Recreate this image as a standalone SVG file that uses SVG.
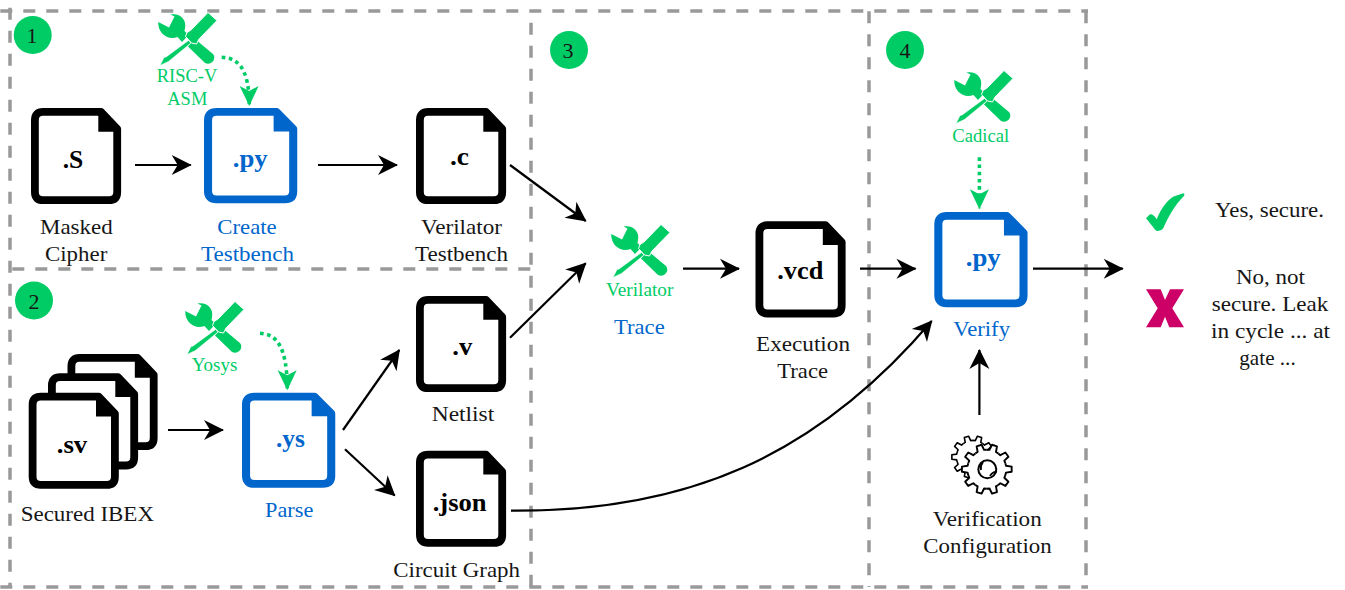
<svg xmlns="http://www.w3.org/2000/svg" width="1345" height="590" viewBox="0 0 1345 590">
<style>
text{font-family:"Liberation Serif","Times New Roman",serif;font-size:22px;fill:#161616}
.g{fill:#00CC66;font-size:18.5px}
.b{fill:#0066CC}
.f{font-weight:bold;font-size:26px;fill:#000}
.fb{font-weight:bold;font-size:26px;fill:#0066CC}
.k{color:#000}
.bl{color:#0066CC}
.frame{stroke:#999;stroke-width:3.5;stroke-dasharray:12 11;fill:none}
.c{fill:none;stroke:#000;stroke-width:2.2}
.d{fill:none;stroke:#00CC66;stroke-width:3.6;stroke-dasharray:3.6 3.6}
.badge{fill:#00CC66}
.seg{fill:#fff;stroke:#000;stroke-width:1.9;stroke-linejoin:round}
</style>
<defs>
<marker id="ah" markerUnits="userSpaceOnUse" markerWidth="24" markerHeight="24" viewBox="0 -12 22 24" refX="19" refY="0" orient="auto"><path d="M0,-10 L20,0 L0,10 L6,0Z" fill="#000"/></marker>
<marker id="ag" markerUnits="userSpaceOnUse" markerWidth="24" markerHeight="24" viewBox="0 -12 22 24" refX="19" refY="0" orient="auto"><path d="M0,-9.5 L20,0 L0,9.5 L5,0Z" fill="#00CC66"/></marker>
<g id="doc">
<path d="M12,3.9 H70 L86.2,21 V84 Q86.2,92.2 78,92.2 H12 Q3.9,92.2 3.9,84 V12 Q3.9,3.9 12,3.9Z" fill="#fff" stroke="currentColor" stroke-width="7.8" stroke-linejoin="round"/>
<path d="M67.3,3.9 H71 L86.2,21 V23.8 H67.3Z" fill="currentColor"/>
</g>
<g id="tool" fill="#00CC66">
<path d="M0.3,10 L11,15.5 L16.5,4.5 L12.5,2.6 C21,0.5 29,7 27,16 L26.5,19 L30.5,23 L24,30 L19.5,25 C10,29 -0.5,21 0.3,10Z"/>
<path d="M30,34.5 L37,27 L55,42 C59,47 53,54 47,51 Z"/>
<path d="M50,0.5 L59,8.5 L41,27 L38.5,32 L33.5,31 L27.5,24.5 L29,20.5 L33,18Z" stroke="#fff" stroke-width="1"/>
<path d="M30.5,28.5 L33,31 L10.5,49.5 L2,53.5 L6,45.5 L8,45Z" stroke="#fff" stroke-width="0.6"/>
</g>
<path id="tooth" class="seg" d="M18.55,-6.03 L19.2,-3.39 L24.86,-2.61 L24.86,2.61 L19.2,3.39 L18.55,6.03"/>
<g id="cog">
<circle r="19" fill="#fff"/>
<use href="#tooth"/><use href="#tooth" transform="rotate(36)"/><use href="#tooth" transform="rotate(72)"/><use href="#tooth" transform="rotate(108)"/><use href="#tooth" transform="rotate(144)"/><use href="#tooth" transform="rotate(180)"/><use href="#tooth" transform="rotate(216)"/><use href="#tooth" transform="rotate(252)"/><use href="#tooth" transform="rotate(288)"/><use href="#tooth" transform="rotate(324)"/>
</g>
</defs>

<g id="frames">
<line class="frame" x1="0.3" y1="11" x2="1088" y2="11" stroke-dashoffset="-23"/>
<line class="frame" x1="0.3" y1="587" x2="1088" y2="587" stroke-dashoffset="-23"/>
<line class="frame" x1="12.3" y1="269" x2="531" y2="269"/>
<line class="frame" x1="10" y1="7.7" x2="10" y2="587"/>
<line class="frame" x1="531" y1="22.7" x2="531" y2="587"/>
<line class="frame" x1="869" y1="11.3" x2="869" y2="587"/>
<line class="frame" x1="1086" y1="11.3" x2="1086" y2="587"/>
</g>

<g id="connectors">
<path class="c" marker-end="url(#ah)" d="M135,165 H190.7"/>
<path class="c" marker-end="url(#ah)" d="M318,165 H397"/>
<path class="c" marker-end="url(#ah)" d="M510,165 L585.7,221"/>
<path class="c" marker-end="url(#ah)" d="M510,337.7 L585.7,263.3"/>
<path class="c" marker-end="url(#ah)" d="M683,268.7 H739"/>
<path class="c" marker-end="url(#ah)" d="M860,268.7 H915.5"/>
<path class="c" marker-end="url(#ah)" d="M1033,268.7 H1122.7"/>
<path class="c" marker-end="url(#ah)" d="M168,430 H223"/>
<path class="c" marker-end="url(#ah)" d="M343,430 L399.3,350"/>
<path class="c" marker-end="url(#ah)" d="M345,449.3 L394.7,495.5"/>
<path class="c" marker-end="url(#ah)" d="M511,510.7 C685,512 815,458 931.7,321"/>
<path class="c" marker-end="url(#ah)" d="M979.4,415 V350"/>
<path class="d" marker-end="url(#ag)" d="M221.7,57.3 C238,58 249,68 249.3,105"/>
<path class="d" marker-end="url(#ag)" d="M260,333.3 C276,334 287,345 287.3,389.3"/>
<path class="d" marker-end="url(#ag)" d="M979.4,157.3 V208.3"/>
</g>

<g id="step-1"><circle class="badge" cx="32.7" cy="35" r="19"/><text x="32" y="43" text-anchor="middle">1</text></g>
<g id="step-2"><circle class="badge" cx="34" cy="300.5" r="19"/><text x="34" y="308.5" text-anchor="middle">2</text></g>
<g id="step-3"><circle class="badge" cx="569" cy="50" r="19"/><text x="568" y="58" text-anchor="middle">3</text></g>
<g id="step-4"><circle class="badge" cx="905" cy="50" r="19"/><text x="905" y="58" text-anchor="middle">4</text></g>

<g id="masked-cipher">
<use href="#doc" class="k" x="31" y="108"/>
<text class="f" x="62.7" y="168" textLength="20.6" lengthAdjust="spacingAndGlyphs">.S</text>
<text x="40" y="233.5" textLength="72.7" lengthAdjust="spacingAndGlyphs">Masked</text>
<text x="45" y="260.5" textLength="62.3" lengthAdjust="spacingAndGlyphs">Cipher</text>
</g>
<g id="risc-v-asm">
<use href="#tool" x="158" y="12"/>
<text class="g" x="156.7" y="81.7" textLength="60.6" lengthAdjust="spacingAndGlyphs">RISC-V</text>
<text class="g" x="167.3" y="105" textLength="40" lengthAdjust="spacingAndGlyphs">ASM</text>
</g>
<g id="create-testbench">
<use href="#doc" class="bl" transform="translate(204,108) scale(1.035,0.99)"/>
<text class="fb" x="232.7" y="166.7" textLength="35" lengthAdjust="spacingAndGlyphs">.py</text>
<text class="b" x="217.3" y="233.5" textLength="59.4" lengthAdjust="spacingAndGlyphs">Create</text>
<text class="b" x="201" y="260.5" textLength="93" lengthAdjust="spacingAndGlyphs">Testbench</text>
</g>
<g id="verilator-testbench">
<use href="#doc" class="k" x="416" y="108"/>
<text class="f" x="450" y="165" textLength="19" lengthAdjust="spacingAndGlyphs">.c</text>
<text x="421" y="234" textLength="81" lengthAdjust="spacingAndGlyphs">Verilator</text>
<text x="415" y="261" textLength="93" lengthAdjust="spacingAndGlyphs">Testbench</text>
</g>
<g id="secured-ibex">
<use href="#doc" class="k" x="67.5" y="354"/>
<use href="#doc" class="k" x="48" y="373.3"/>
<use href="#doc" class="k" x="28.7" y="392.7"/>
<text class="f" x="56.7" y="452.7" textLength="30.6" lengthAdjust="spacingAndGlyphs">.sv</text>
<text x="20.7" y="521" textLength="133.3" lengthAdjust="spacingAndGlyphs">Secured IBEX</text>
</g>
<g id="yosys">
<use href="#tool" x="185" y="301"/>
<text class="g" x="191.7" y="371" textLength="45.6" lengthAdjust="spacingAndGlyphs">Yosys</text>
</g>
<g id="parse">
<use href="#doc" class="bl" transform="translate(242,392.7) scale(1.035,0.99)"/>
<text class="fb" x="276" y="447.3" textLength="29" lengthAdjust="spacingAndGlyphs">.ys</text>
<text class="b" x="265" y="516.7" textLength="48.3" lengthAdjust="spacingAndGlyphs">Parse</text>
</g>
<g id="netlist">
<use href="#doc" class="k" x="416" y="296"/>
<text class="f" x="452.3" y="355" textLength="20" lengthAdjust="spacingAndGlyphs">.v</text>
<text x="431.7" y="420.7" textLength="62.6" lengthAdjust="spacingAndGlyphs">Netlist</text>
</g>
<g id="circuit-graph">
<use href="#doc" class="k" x="416" y="450.7"/>
<text class="f" x="432.7" y="510.7" textLength="54" lengthAdjust="spacingAndGlyphs">.json</text>
<text x="393.3" y="577.3" textLength="126.7" lengthAdjust="spacingAndGlyphs">Circuit Graph</text>
</g>
<g id="verilator-trace">
<use href="#tool" x="611" y="224"/>
<text class="g" x="606" y="295.7" textLength="67.3" lengthAdjust="spacingAndGlyphs">Verilator</text>
<text class="b" x="614" y="334" textLength="50.7" lengthAdjust="spacingAndGlyphs">Trace</text>
</g>
<g id="execution-trace">
<use href="#doc" class="k" x="755.5" y="221.3"/>
<text class="f" x="777.3" y="279.3" textLength="46" lengthAdjust="spacingAndGlyphs">.vcd</text>
<text x="756" y="351" textLength="94" lengthAdjust="spacingAndGlyphs">Execution</text>
<text x="777.3" y="378.3" textLength="50.7" lengthAdjust="spacingAndGlyphs">Trace</text>
</g>
<g id="cadical">
<use href="#tool" x="954" y="70"/>
<text class="g" x="952.3" y="141.7" textLength="57" lengthAdjust="spacingAndGlyphs">Cadical</text>
</g>
<g id="verify">
<use href="#doc" class="bl" transform="translate(934.3,212) scale(1.035,0.99)"/>
<text class="fb" x="965.7" y="265.7" textLength="35" lengthAdjust="spacingAndGlyphs">.py</text>
<text class="b" x="953.3" y="336" textLength="56.7" lengthAdjust="spacingAndGlyphs">Verify</text>
</g>
<g id="verification-configuration">
<use href="#cog" transform="translate(973,457) scale(0.85)"/>
<use href="#cog" transform="translate(986.8,469.2)"/>
<circle cx="987.3" cy="469.3" r="9" fill="#fff" stroke="#000" stroke-width="2"/>
<path d="M990,476 Q993,471 997,472 M983,462 Q980,466 981,470" fill="none" stroke="#000" stroke-width="1.8"/>
<text x="932.7" y="526" textLength="109" lengthAdjust="spacingAndGlyphs">Verification</text>
<text x="923.3" y="553.3" textLength="128.4" lengthAdjust="spacingAndGlyphs">Configuration</text>
</g>
<g id="result-yes">
<path d="M1146,218.3 L1150,214.3 Q1153,213.5 1156.7,219.3 C1161,208 1168,200 1173,196.7 L1183.3,193.3 Q1185,193.5 1184.3,195.5 C1175,205 1168,217 1163.3,228.3 Q1161,231.5 1157,231 Q1155,230.5 1153,227Z" fill="#00CC66"/>
<text x="1215" y="216.7" textLength="109" lengthAdjust="spacingAndGlyphs">Yes, secure.</text>
</g>
<g id="result-no">
<path d="M1146,289.3 H1160.7 L1165,300 L1170,289.3 H1184 L1172.3,308.3 L1184,327.3 H1169.3 L1165,316.7 L1160.7,327.3 H1146 L1157.7,308.3Z" fill="#CC0066"/>
<text x="1236" y="284" textLength="69" lengthAdjust="spacingAndGlyphs">No, not</text>
<text x="1211.7" y="310.7" textLength="116.6" lengthAdjust="spacingAndGlyphs">secure. Leak</text>
<text x="1211" y="337.7" textLength="119" lengthAdjust="spacingAndGlyphs">in cycle ... at</text>
<text x="1239.3" y="365" textLength="56.4" lengthAdjust="spacingAndGlyphs">gate ...</text>
</g>
</svg>
